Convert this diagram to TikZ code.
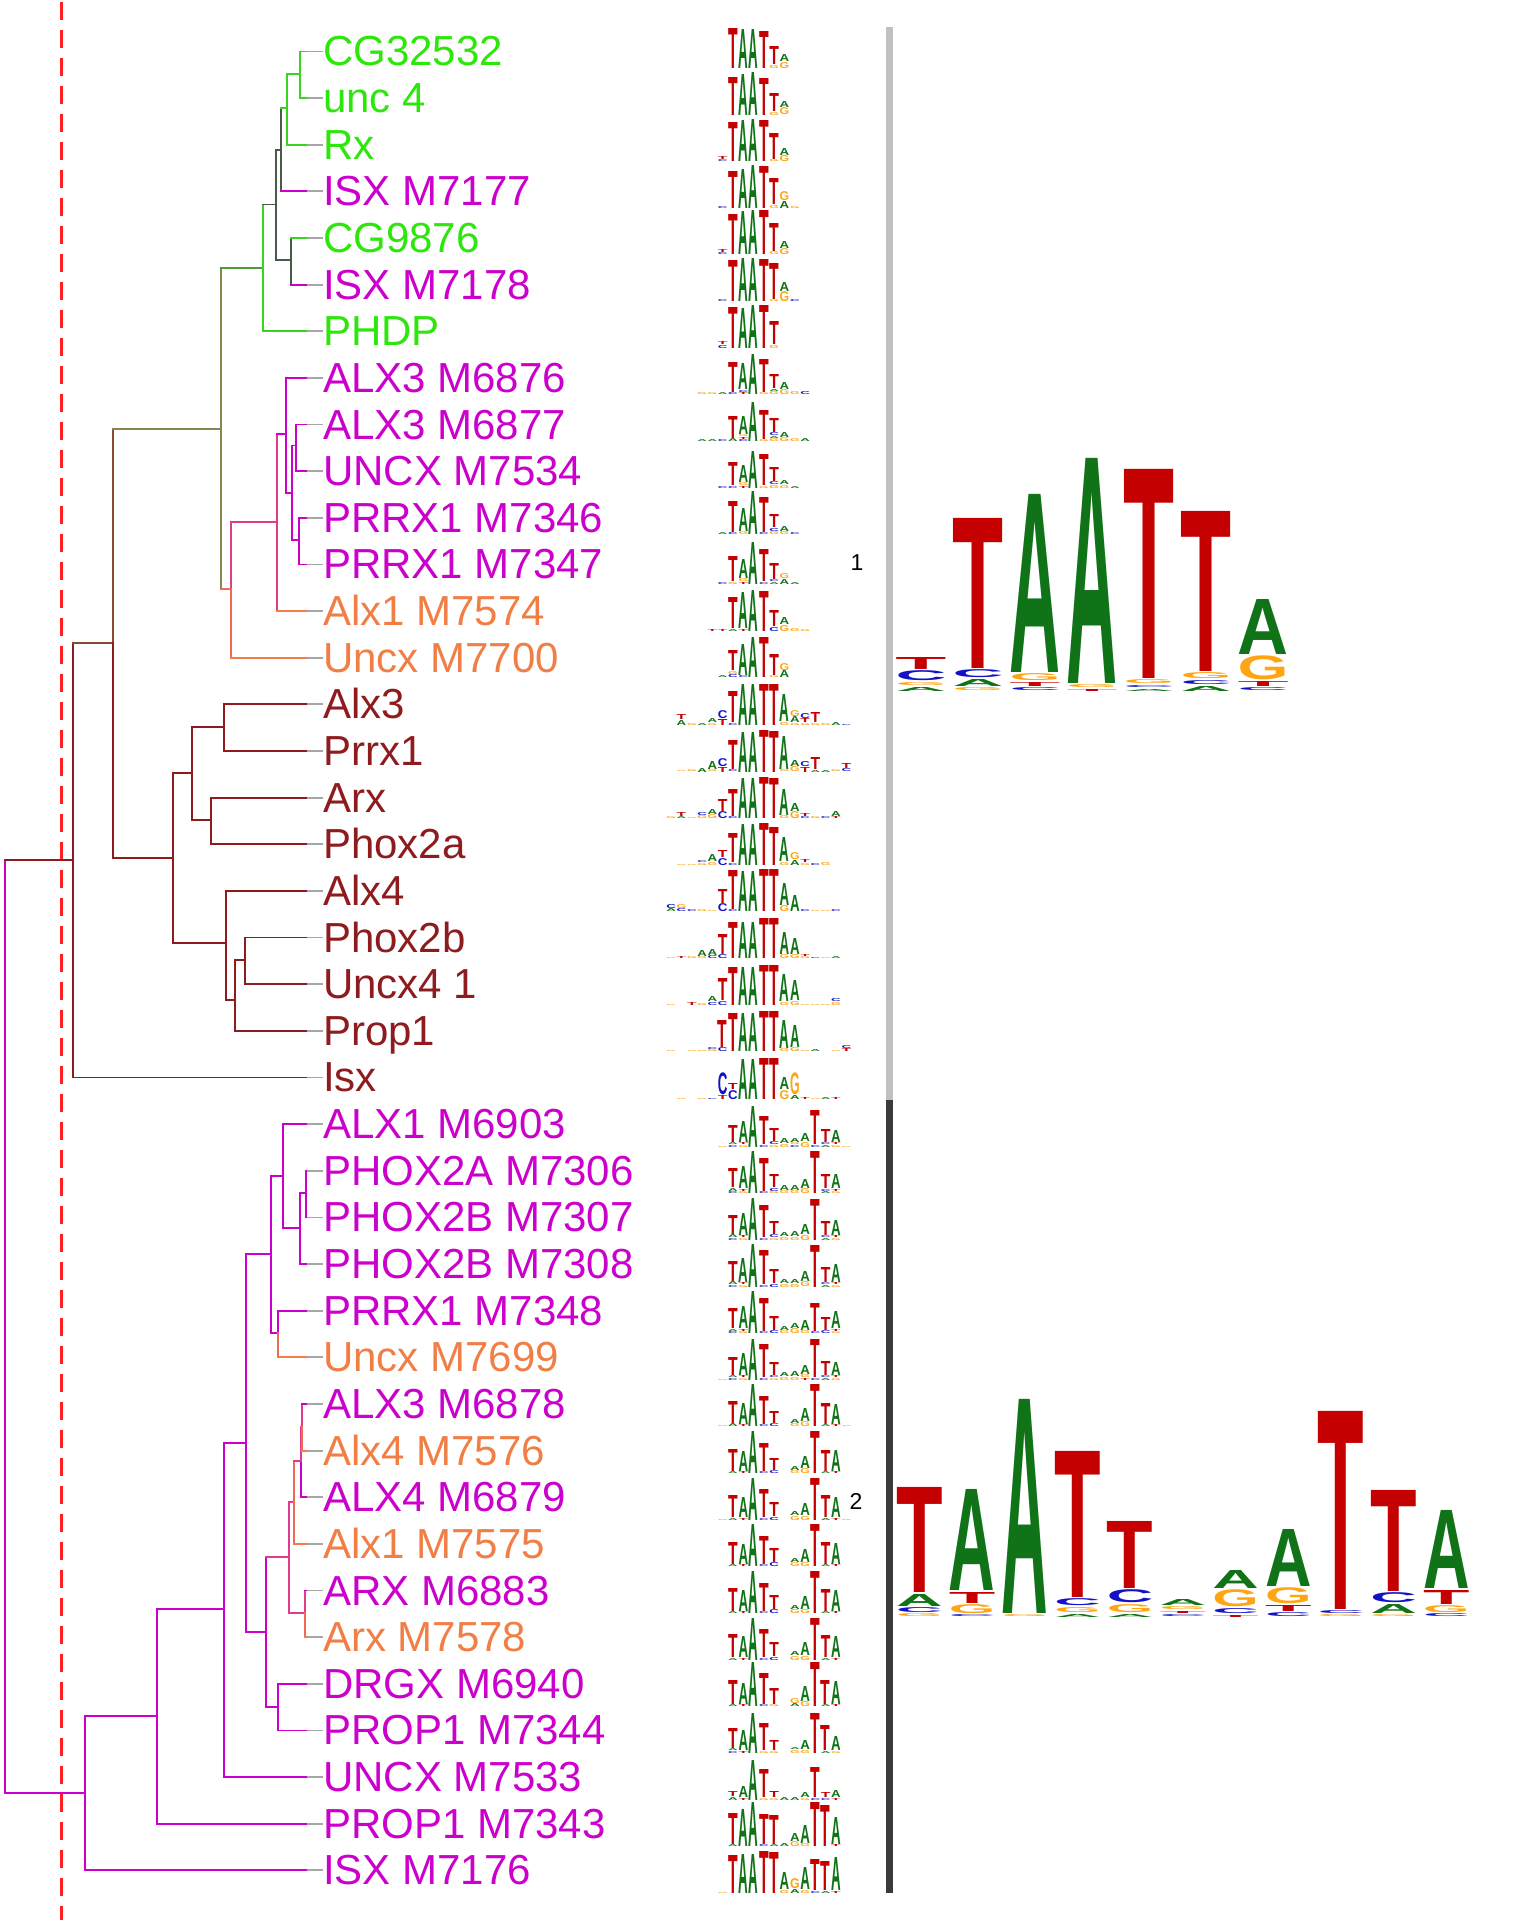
\documentclass[tikz,border=0pt]{standalone}
\usepackage{fontspec}
\setmainfont{Liberation Sans}
\usepackage{graphicx}
\usetikzlibrary{calc}
\definecolor{leafgreen}{HTML}{2DE60B}
\definecolor{leafmag}{HTML}{CC00CC}
\definecolor{leaforange}{HTML}{F07E45}
\definecolor{leafred}{HTML}{8E1B1E}
\definecolor{brgreen}{HTML}{38D41F}
\definecolor{brleaf}{HTML}{4E9A34}
\definecolor{brgray}{HTML}{4B5B4B}
\definecolor{brolive}{HTML}{86864E}
\definecolor{brbrown}{HTML}{8B4B32}
\definecolor{brpink}{HTML}{E03C8A}
\definecolor{brsalmon}{HTML}{EE6A55}
\definecolor{stubgrey}{HTML}{A6A6A6}
\definecolor{baseA}{HTML}{107318}
\definecolor{baseC}{HTML}{1212C4}
\definecolor{baseG}{HTML}{FFA514}
\definecolor{baseT}{HTML}{C40000}
\definecolor{cutred}{HTML}{FF1F1F}
\definecolor{barlight}{HTML}{C0C0C0}
\definecolor{bardark}{HTML}{3A3A3A}
\newcommand{\seqlogo}[6]{%
  \foreach \pos/\colstack in {#6}{%
    \gdef\stackh{0}%
    \foreach \nuc/\hgt in \colstack{%
      \node[nucl] at ({#1+#3*(\pos)},{#2-\stackh})
        {\resizebox*{#4pt}{\hgt pt}{\bfseries\color{base\nuc}\nuc}};%
      \pgfmathsetmacro\newh{\stackh+\hgt+#5}\xdef\stackh{\newh}%
    }%
  }}
\newcommand{\rowlogo}[3]{\seqlogo{733}{51.4+46.64*#1+#2}{10.3}{9.6}{0.5}{#3}}
\newcommand{\branch}[4]{%
  \draw[tree, #3] (#1) -- (#1 |- #2);
  \draw[tree, #4] (#1 |- #2) -- (#2);}

\begin{document}
\begin{tikzpicture}[x=1pt, y=-1pt,
    tree/.style={line width=1.8pt, line cap=rect},
    stub/.style={stubgrey, line width=1.8pt},
    leaflab/.style={anchor=base west, inner sep=0pt,
                    font=\fontsize{42}{48}\selectfont},
    nucl/.style={anchor=south, inner sep=0pt, outer sep=0pt},
    cutline/.style={cutred, line width=3pt, dash pattern=on 18pt off 10pt},
    clusterno/.style={inner sep=0pt, font=\fontsize{23}{26}\selectfont}]
  \useasboundingbox (0,0) rectangle (1536,1920);

  \coordinate (cuttop) at (61,2);
  \coordinate (cutbot) at (61,1920);
  \draw[cutline] (cuttop) -- (cutbot);

  \foreach \i in {0,...,39}
    \coordinate (l\i) at (307,{51.4+46.64*\i});
  \foreach \nm/\x/\y in {root/4.7/1326.7, nA/73/860, nB/112.7/643, nC/221/429,
      nD/263/268, nE/275.7/204.5, nF/281/149.6, nG/287.3/108, nH/300/74,
      nI/291/260, nJ/231/589, nK/276.7/522, nL/285.7/434, nM/292.3/493,
      nN/296/445.5, nO/299/540, nP/172.7/858, nQ/192.3/773.3, nR/224/726.7,
      nS/211.3/820, nT/226/942.7, nU/235.3/1000, nV/245.3/960,
      x1/85/1793.3, x2/157/1716, x3/224/1609.3, x4/246/1443.3, x5/270.7/1254,
      x6/282.7/1175.7, x7/300/1227.7, x8/305.7/1193.3, x9/278.3/1333.3,
      x10/265.7/1632, x11/278.3/1706.7, x12/289.3/1557.3, x13/305/1612.7,
      x14/294.3/1501.7, x15/301/1461, x16/302/1426.7}
    \coordinate (\nm) at (\x,\y);

  \branch{root}{nA}{leafmag}{leafred}
  \branch{root}{x1}{leafmag}{leafmag}
  \branch{nA}{nB}{leafred}{brbrown}
  \branch{nA}{l22}{leafred}{leafred}
  \branch{nB}{nC}{brbrown}{brolive}
  \branch{nB}{nP}{leafred}{leafred}
  \branch{nC}{nD}{brolive}{brleaf}
  \branch{nC}{nJ}{brolive}{brsalmon}
  \branch{nD}{nE}{brgreen}{brgray}
  \branch{nD}{l6}{brgreen}{brgreen}
  \branch{nE}{nF}{brgray}{brgray}
  \branch{nE}{nI}{brgray}{brgray}
  \branch{nF}{nG}{brgray}{brgreen}
  \branch{nF}{l3}{brgray}{leafmag}
  \branch{nG}{nH}{brgreen}{brgreen}
  \branch{nG}{l2}{brgreen}{brgreen}
  \branch{nH}{l0}{brgreen}{brgreen}
  \branch{nH}{l1}{brgreen}{brgreen}
  \branch{nI}{l4}{brgray}{brgreen}
  \branch{nI}{l5}{brgray}{leafmag}
  \branch{nJ}{nK}{brpink}{brpink}
  \branch{nJ}{l13}{brsalmon}{leaforange}
  \branch{nK}{nL}{brpink}{leafmag}
  \branch{nK}{l12}{brpink}{leaforange}
  \foreach \p/\c in {nL/l7, nL/nM, nM/nN, nM/nO, nN/l8, nN/l9, nO/l10, nO/l11}
    {\branch{\p}{\c}{leafmag}{leafmag}}
  \foreach \p/\c in {nP/nQ, nP/nT, nQ/nR, nQ/nS, nR/l14, nR/l15, nS/l16, nS/l17,
      nT/l18, nT/nU, nU/nV, nU/l21, nV/l19, nV/l20}
    {\branch{\p}{\c}{leafred}{leafred}}
  \foreach \p/\c in {x1/x2, x1/l39, x2/x3, x2/l38, x3/x4, x3/l37, x4/x5, x4/x10,
      x5/x6, x5/x9, x6/l23, x6/x7, x7/x8, x7/l26, x8/l24, x8/l25, x9/l27,
      x10/x11, x11/l35, x11/l36, x15/l31}
    {\branch{\p}{\c}{leafmag}{leafmag}}
  \branch{x9}{l28}{brsalmon}{leaforange}
  \branch{x10}{x12}{leafmag}{brpink}
  \branch{x12}{x14}{brpink}{brpink}
  \branch{x12}{x13}{brpink}{brpink}
  \branch{x13}{l33}{brpink}{leafmag}
  \branch{x13}{l34}{brsalmon}{leaforange}
  \branch{x14}{x15}{brsalmon}{brpink}
  \branch{x14}{l32}{brsalmon}{leaforange}
  \branch{x15}{x16}{brpink}{brpink}
  \branch{x16}{l29}{brpink}{leafmag}
  \branch{x16}{l30}{brsalmon}{leaforange}

  \foreach \txt/\clr [count=\i from 0] in {CG32532/leafgreen, unc 4/leafgreen,
      Rx/leafgreen, ISX M7177/leafmag, CG9876/leafgreen, ISX M7178/leafmag,
      PHDP/leafgreen, ALX3 M6876/leafmag, ALX3 M6877/leafmag, UNCX M7534/leafmag,
      PRRX1 M7346/leafmag, PRRX1 M7347/leafmag, Alx1 M7574/leaforange,
      Uncx M7700/leaforange, Alx3/leafred, Prrx1/leafred, Arx/leafred,
      Phox2a/leafred, Alx4/leafred, Phox2b/leafred, Uncx4 1/leafred,
      Prop1/leafred, Isx/leafred, ALX1 M6903/leafmag, PHOX2A M7306/leafmag,
      PHOX2B M7307/leafmag, PHOX2B M7308/leafmag, PRRX1 M7348/leafmag,
      Uncx M7699/leaforange, ALX3 M6878/leafmag, Alx4 M7576/leaforange,
      ALX4 M6879/leafmag, Alx1 M7575/leaforange, ARX M6883/leafmag,
      Arx M7578/leaforange, DRGX M6940/leafmag, PROP1 M7344/leafmag,
      UNCX M7533/leafmag, PROP1 M7343/leafmag, ISX M7176/leafmag}{%
    \coordinate (s\i) at (323,{51.4+46.64*\i});
    \draw[stub] (l\i) -- (s\i);
    \node[leaflab, text=\clr] (t\i) at (323,{51.4+46.64*\i+14.5}) {\txt};}

  \rowlogo{0}{17}{0/{T/40},1/{A/39},2/{A/39},3/{T/37},4/{G/3,T/18},5/{G/6,A/7}}
  \rowlogo{1}{17}{0/{T/38},1/{A/41},2/{A/43},3/{T/37},4/{G/3,T/18},5/{G/7,A/6}}
  \rowlogo{2}{17}{-1/{C/2,T/3},0/{T/39},1/{A/41},2/{A/42},3/{T/41},4/{G/2,T/26},5/{G/6,A/7}}
  \rowlogo{3}{17}{-1/{C/2},0/{T/37},1/{A/39},2/{A/43},3/{T/42},4/{G/3,T/26},5/{A/7,G/9},6/{G/2}}
  \rowlogo{4}{17}{-1/{C/2,T/3},0/{T/40},1/{A/43},2/{A/44},3/{T/44},4/{G/3,T/28},5/{G/6,A/7}}
  \rowlogo{5}{17}{-1/{C/2},0/{T/41},1/{A/43},2/{A/43},3/{T/42},4/{G/2,T/36},5/{G/10,A/9},6/{C/2}}
  \rowlogo{6}{17}{-1/{C/3,T/3},0/{T/41},1/{A/40},2/{A/43},3/{T/43},4/{G/3,T/23}}
  \rowlogo{7}{17}{-3/{G/2},-2/{G/2},-1/{A/2},0/{C/2,T/30},1/{T/2,C/2,A/26},2/{A/40},3/{G/2,T/33},4/{G/3,A/2,T/14},5/{G/5,A/7},6/{G/3},7/{C/3}}
  \rowlogo{8}{17}{-3/{A/2},-2/{A/2},-1/{C/2},0/{A/3,T/22},1/{C/2,T/2,G/2,A/18},2/{A/39},3/{G/2,T/29},4/{G/3,A/2,C/3,T/14},5/{G/4,A/5},6/{G/3},7/{A/3}}
  \rowlogo{9}{17}{-1/{C/2},0/{C/2,T/23},1/{T/2,G/3,A/17},2/{A/37},3/{G/2,T/31},4/{G/3,C/3,T/14},5/{G/3,A/4},6/{A/2}}
  \rowlogo{10}{17}{-1/{A/2},0/{C/2,T/31},1/{G/3,A/23},2/{A/43},3/{C/2,T/35},4/{G/3,C/3,T/13},5/{G/3,A/5},6/{C/2}}
  \rowlogo{11}{20}{-1/{C/2},0/{G/2,T/25},1/{T/2,G/3,A/19},2/{A/42},3/{C/2,T/32},4/{A/2,C/2,T/16},5/{A/5,G/5},6/{A/2}}
  \rowlogo{12}{20}{-2/{T/2},-1/{T/2},0/{A/2,T/31},1/{T/2,A/36},2/{A/41},3/{T/40},4/{C/4,T/16},5/{G/6,A/7},6/{G/3},7/{G/2}}
  \rowlogo{13}{20}{-1/{A/2},0/{C/3,G/3,T/20},1/{C/2,A/31},2/{A/40},3/{T/40},4/{G/2,T/21},5/{A/7,G/7}}
  \rowlogo{14}{21}{-5/{A/5,T/5},-4/{G/2},-3/{A/2},-2/{G/2,A/4},-1/{T/6,C/8},0/{C/2,T/31},1/{A/41},2/{A/41},3/{T/41},4/{T/41},5/{G/3,A/27},6/{G/2,A/6,G/6},7/{G/2,T/4,C/5},8/{G/2,T/10},9/{G/2},10/{A/3},11/{C/1}}
  \rowlogo{15}{21}{-5/{G/1},-4/{G/2},-3/{A/4},-2/{G/2,A/8},-1/{T/5,C/8},0/{C/2,T/29},1/{A/40},2/{A/40},3/{T/42},4/{T/41},5/{G/2,A/33},6/{G/5,A/6},7/{T/5,C/5},8/{A/2,T/12},9/{A/2},10/{G/2},11/{C/3,T/5}}
  \rowlogo{16}{21}{-6/{G/2},-5/{A/2,T/4},-4/{G/1},-3/{G/3,C/3},-2/{G/4,A/5},-1/{C/7,T/12},0/{C/2,T/27},1/{A/40},2/{A/40},3/{T/41},4/{T/40},5/{G/3,A/26},6/{G/7,A/8},7/{C/2,T/3},8/{G/2},9/{C/2},10/{T/2,A/5}}
  \rowlogo{17}{21}{-5/{G/1},-4/{G/1},-3/{G/2,C/2},-2/{G/3,A/7},-1/{C/7,T/7},0/{C/2,T/29},1/{A/41},2/{A/41},3/{T/42},4/{T/38},5/{G/3,A/24},6/{A/5,G/7},7/{G/2,T/3},8/{C/2},9/{G/3}}
  \rowlogo{18}{21}{-6/{A/3,C/4},-5/{C/3,G/4},-4/{C/2},-3/{G/2},-2/{G/1},-1/{C/8,T/14},0/{C/2,T/39},1/{A/40},2/{A/40},3/{T/42},4/{T/42},5/{G/6,A/22},6/{A/16},7/{C/2},8/{G/1},9/{G/1},10/{C/2}}
  \rowlogo{19}{21}{-6/{G/1},-5/{T/2},-4/{G/2},-3/{G/2,A/6},-2/{C/3,A/6},-1/{C/4,T/20},0/{T/36},1/{A/36},2/{A/36},3/{T/40},4/{T/40},5/{G/4,A/22},6/{G/4,A/16},7/{G/2,T/2},8/{C/1},9/{G/1},10/{A/2}}
  \rowlogo{20}{21}{-6/{G/1},-4/{T/3},-3/{G/2},-2/{C/3,A/5},-1/{C/4,T/22},0/{T/38},1/{A/38},2/{A/38},3/{T/40},4/{T/40},5/{G/3,A/27},6/{G/4,A/20},7/{G/1},8/{G/1},9/{G/1},10/{G/3,C/3}}
  \rowlogo{21}{21}{-6/{G/1},-4/{G/1},-3/{G/1},-2/{G/2,C/2},-1/{C/4,T/27},0/{T/38},1/{A/38},2/{A/38},3/{T/40},4/{T/40},5/{G/3,A/28},6/{G/4,A/22},7/{G/1},8/{A/2},10/{G/1},11/{T/3,C/3}}
  \rowlogo{22}{22}{-5/{G/1},-3/{G/1},-2/{C/1},-1/{T/4,C/22},0/{C/9,T/6},1/{A/40},2/{A/40},3/{T/41},4/{T/41},5/{G/9,A/12},6/{A/4,G/22},7/{T/2},8/{G/1},9/{A/2},10/{T/2}}
  \rowlogo{23}{23}{-1/{G/1},0/{C/2,A/2,T/17},1/{G/2,T/2,A/21},2/{A/41},3/{C/2,T/28},4/{G/2,C/3,T/13},5/{G/3,A/5},6/{C/2,G/2,A/4},7/{G/5,A/8},8/{C/2,T/34},9/{A/2,C/2,T/13},10/{G/2,T/2,A/12},11/{G/1}}
  \rowlogo{24}{23}{0/{C/2,A/3,T/19},1/{G/2,T/2,A/22},2/{A/42},3/{C/2,T/33},4/{G/2,C/3,T/13},5/{G/3,A/5},6/{G/3,A/5},7/{G/5,A/9},8/{T/42},9/{A/2,C/2,T/14},10/{G/2,T/2,A/14}}
  \rowlogo{25}{23}{0/{C/2,A/3,T/19},1/{G/2,T/2,A/22},2/{A/42},3/{C/2,T/32},4/{G/2,C/3,T/13},5/{G/3,A/4},6/{G/3,A/5},7/{G/5,A/10},8/{T/41},9/{A/2,C/2,T/14},10/{G/2,T/2,A/15}}
  \rowlogo{26}{23}{0/{C/2,A/3,T/20},1/{G/2,T/2,A/24},2/{A/43},3/{C/2,T/34},4/{C/3,T/14},5/{G/3,A/4},6/{G/3,A/4},7/{G/5,A/10},8/{T/42},9/{A/2,C/2,T/15},10/{G/2,T/2,A/18}}
  \rowlogo{27}{23}{0/{C/2,A/2,T/20},1/{G/2,T/2,A/22},2/{A/42},3/{C/2,T/33},4/{C/3,T/14},5/{G/3,A/4},6/{G/5,A/5},7/{G/3,A/10},8/{C/2,T/28},9/{C/3,T/13},10/{G/2,T/2,A/17}}
  \rowlogo{28}{23}{-1/{G/1},0/{C/2,A/2,T/18},1/{G/2,T/2,A/22},2/{A/41},3/{C/2,T/33},4/{G/2,C/2,T/13},5/{G/3,A/4},6/{G/3,A/5},7/{T/2,G/3,A/9},8/{C/2,T/38},9/{A/2,C/2,T/14},10/{G/2,T/2,A/13}}
  \rowlogo{29}{23}{-1/{G/1},0/{A/3,T/22},1/{T/2,A/21},2/{A/42},3/{C/2,T/28},4/{C/3,T/12},6/{G/3,A/4},7/{G/5,A/13},8/{T/42},9/{A/2,T/21},10/{T/2,A/20},11/{G/1}}
  \rowlogo{30}{23}{0/{A/2,T/22},1/{T/2,A/20},2/{A/42},3/{C/2,T/28},4/{C/3,T/12},6/{G/3,A/4},7/{G/5,A/12},8/{T/42},9/{A/2,T/21},10/{T/2,A/21}}
  \rowlogo{31}{23}{-1/{G/1},0/{A/2,T/22},1/{T/2,A/20},2/{A/42},3/{C/2,T/28},4/{C/3,T/14},6/{G/4,A/4},7/{G/4,A/12},8/{T/42},9/{A/2,T/22},10/{T/2,A/20},11/{G/1}}
  \rowlogo{32}{23}{0/{A/2,T/22},1/{T/2,A/20},2/{A/42},3/{C/2,T/28},4/{C/4,T/14},6/{G/4,A/4},7/{G/4,A/13},8/{T/42},9/{A/2,T/22},10/{T/2,A/21}}
  \rowlogo{33}{23}{0/{A/2,T/23},1/{T/2,A/21},2/{A/42},3/{C/2,T/28},4/{C/4,T/14},6/{G/4,A/4},7/{G/4,A/13},8/{T/42},9/{A/2,T/22},10/{T/2,A/21}}
  \rowlogo{34}{23}{0/{A/2,T/23},1/{T/2,A/21},2/{A/42},3/{C/2,T/28},4/{C/3,T/14},6/{G/4,A/4},7/{G/4,A/13},8/{T/42},9/{A/2,T/22},10/{T/2,A/21}}
  \rowlogo{35}{23}{0/{A/2,T/24},1/{T/2,A/21},2/{A/44},3/{C/2,T/31},4/{G/2,T/16},6/{A/3,G/5},7/{G/5,A/15},8/{T/44},9/{A/2,T/24},10/{T/2,A/23}}
  \rowlogo{36}{23}{0/{C/2,A/2,T/20},1/{T/2,A/20},2/{A/40},3/{G/2,T/27},4/{G/2,T/10},6/{G/3,A/2},7/{G/3,A/9},8/{T/40},9/{A/2,T/25},10/{G/2,A/14}}
  \rowlogo{37}{23}{0/{A/3,T/5},1/{T/2,A/11},2/{A/40},3/{G/2,T/28},4/{G/2,T/6},5/{A/3},6/{A/3},7/{G/2,A/5},8/{C/2,T/30},9/{C/2,T/5},10/{T/2,A/7}}
  \rowlogo{38}{23}{0/{A/2,T/31},1/{A/37},2/{A/44},3/{C/2,T/30},4/{A/2,T/29},5/{A/3},6/{G/5,A/8},7/{G/3,A/18},8/{T/44},9/{T/41},10/{T/2,A/27}}
  \rowlogo{39}{23}{-1/{G/1},0/{T/38},1/{A/39},2/{A/39},3/{T/42},4/{T/41},5/{G/3,A/17},6/{A/4,G/10},7/{G/3,A/22},8/{C/2,T/31},9/{A/2,T/29},10/{T/2,A/33}}

  \fill[barlight] (886,27) rectangle (893,1100);
  \fill[bardark] (886,1100) rectangle (893,1893);
  \node[clusterno] (c1) at (857,563) {1};
  \node[clusterno] (c2) at (856,1501) {2};

  \seqlogo{921}{691}{57}{51}{1.5}{0/{A/4,G/3,C/10,T/12},1/{G/3,A/7,C/8,T/150},2/{C/3,T/4,G/7,A/178},3/{T/2,G/3,A/225},4/{A/2,C/2,G/4,T/209},5/{A/5,C/4,G/6,T/160},6/{C/3,T/5,G/24,A/55}}
  \seqlogo{919.4}{1617}{52.7}{46.5}{1.5}{0/{G/3,C/5,A/12,T/105},1/{C/2,G/9,T/11,A/101},2/{G/2,A/214},3/{A/3,G/5,C/7,T/146},4/{A/3,G/8,C/13,T/67},5/{C/2,T/2,G/3,A/6},6/{T/2,C/5,G/17,A/18},7/{C/4,T/6,G/16,A/57},8/{G/2,C/3,T/198},9/{G/2,A/9,C/10,T/101},10/{C/3,G/7,T/14,A/78}}
\end{tikzpicture}
\end{document}
